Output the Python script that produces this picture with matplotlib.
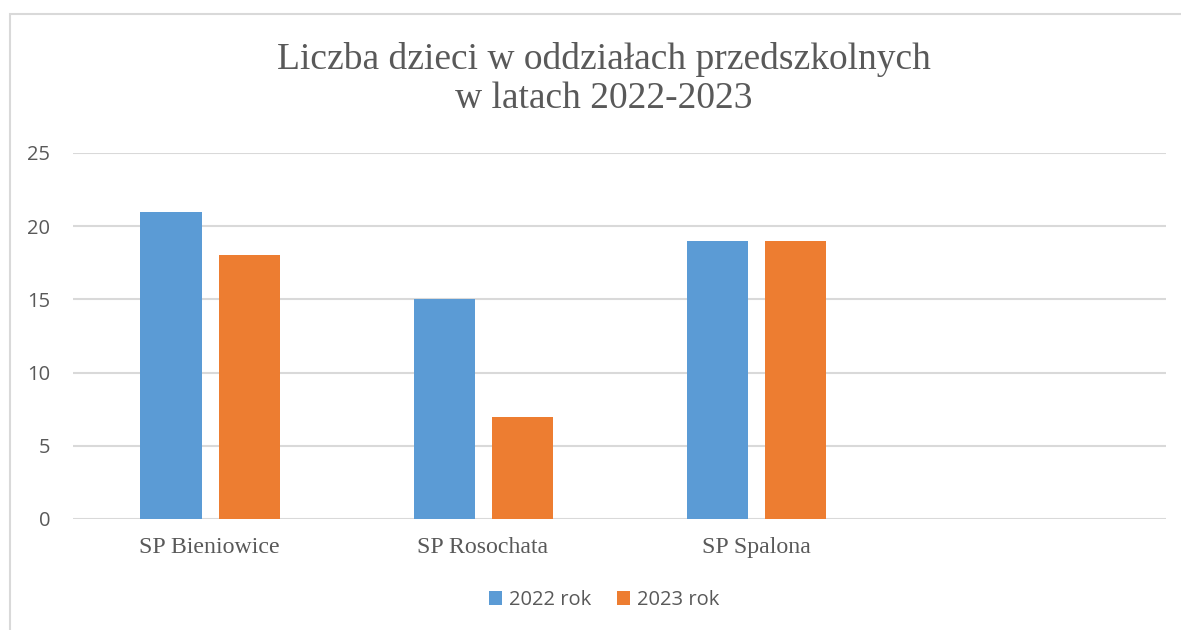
import matplotlib.pyplot as plt
import matplotlib.patches as patches
import numpy as np

categories = ['SP Bieniowice', 'SP Rosochata', 'SP Spalona', '']
values_2022 = [21, 15, 19, 0]
values_2023 = [18, 7, 19, 0]
series_names = ['2022 rok', '2023 rok']

blue = '#5b9bd5'
orange = '#ed7d31'
grey_text = '#595959'
grid_col = '#d9d9d9'

fig = plt.figure(figsize=(11.81, 6.30), dpi=100)
ax = fig.add_axes([73 / 1181, 1 - 519 / 630, (1166 - 73) / 1181, (519 - 153) / 630])

x = np.arange(len(categories))
w = 0.224
ax.bar(x[:3] - 0.141, values_2022[:3], w, color=blue, label=series_names[0], zorder=3)
ax.bar(x[:3] + 0.145, values_2023[:3], w, color=orange, label=series_names[1], zorder=3)

ax.set_xlim(-0.5, 3.5)
ax.set_ylim(0, 25)
ax.set_yticks([0, 5, 10, 15, 20, 25])
ax.yaxis.grid(True, color=grid_col, linewidth=1.5, zorder=0)
for s in ax.spines.values():
    s.set_visible(False)
ax.tick_params(length=0)
ax.tick_params(axis='y', pad=16.5, labelsize=14.5, labelcolor=grey_text)
ax.tick_params(axis='x', pad=13, labelcolor=grey_text)
for t in ax.get_yticklabels():
    t.set_family('Open Sans')
ax.set_xticks(x)
ax.set_xticklabels(categories, family='Liberation Serif', fontsize=17.2)

fig.text(0.511, 1 - 79 / 630, 'Liczba dzieci w oddziałach przedszkolnych\nw latach 2022-2023',
         ha='center', va='center', family='Liberation Serif', fontsize=27,
         color=grey_text, linespacing=1.2)

leg = ax.legend(loc='center', bbox_to_anchor=(0.486, (519 - 600) / 366), ncol=2, frameon=False,
                prop={'family': 'Open Sans', 'size': 14.5}, handlelength=0.65,
                handleheight=0.65, handletextpad=0.35, columnspacing=1.3)
for t in leg.get_texts():
    t.set_color(grey_text)

fig.patches.append(patches.Rectangle((10 / 1181, -0.1), 1.1, 1 - 14 / 630 + 0.1,
                                     transform=fig.transFigure, fill=False,
                                     edgecolor=grid_col, linewidth=1.5))

plt.savefig('out.png', dpi=100)
